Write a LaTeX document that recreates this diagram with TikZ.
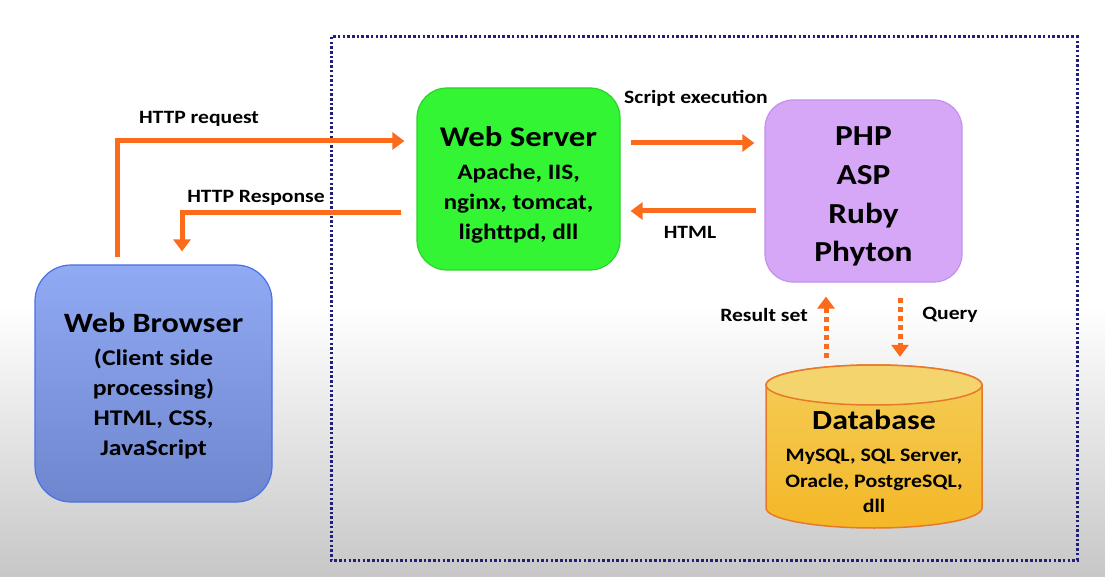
\documentclass[tikz,border=0pt]{standalone}
\usepackage{fontspec}
\setmainfont{Carlito}[FakeStretch=1.15]
\usetikzlibrary{arrows.meta}
\definecolor{orng}{HTML}{FC6A1C}
\definecolor{navy}{HTML}{1F1F7A}
\definecolor{bltop}{HTML}{90AAF3}
\definecolor{blbot}{HTML}{6E86CE}
\definecolor{blline}{HTML}{4D6FE6}
\definecolor{grn}{HTML}{33F533}
\definecolor{grnline}{HTML}{2AD42A}
\definecolor{lav}{HTML}{D6A6F7}
\definecolor{lavline}{HTML}{C490EE}
\definecolor{gold}{HTML}{F2C12E}
\definecolor{goldtop}{HTML}{F4D46C}
\definecolor{dbline}{HTML}{E8792A}
\tikzset{
  box/.style={rounded corners=30pt, line width=1.2pt, inner sep=0pt},
  txt/.style={align=center, inner sep=0pt},
  arr/.style={draw=orng, line width=5pt, -{Triangle[width=17pt,length=12pt]}},
  dotarr/.style={draw=orng, line width=5pt, dash pattern=on 5pt off 4pt, -{Triangle[width=17pt,length=12pt]}},
  lbl/.style={font=\bfseries\fontsize{18.8}{20}\selectfont, inner sep=0pt}
}
\begin{document}
\begin{tikzpicture}[x=1pt,y=-1pt]
\useasboundingbox (0,0) rectangle (1105,577);
% background
\fill[white] (0,0) rectangle (1105,577);
\shade[top color=white, bottom color=black!22] (0,305) rectangle (1105,577);
% frame
\draw[navy, line width=3pt, dash pattern=on 2.5pt off 2.2pt] (331,37) rectangle (1077,560);
% boxes
\node[box, draw=blline, top color=bltop, bottom color=blbot, minimum width=237pt, minimum height=237pt, rounded corners=36pt] (browser) at (153.5,383.5) {};
\node[txt, font=\bfseries\fontsize{22.4}{30}\selectfont] (browsertxt) at (153.5,385.5)
  {{\fontsize{28}{34}\selectfont Web Browser}\\[3pt]
   (Client side\\processing)\\HTML, CSS,\\JavaScript};
\node[box, draw=grnline, fill=grn, minimum width=203pt, minimum height=182pt] (server) at (518.5,179) {};
\node[txt, font=\bfseries\fontsize{22}{30}\selectfont] (servertxt) at (518.5,184.7)
  {{\fontsize{28.5}{34}\selectfont Web Server}\\[3pt]
   Apache, IIS,\\nginx, tomcat,\\lighttpd, dll};
\node[box, draw=lavline, fill=lav, minimum width=197pt, minimum height=182pt, rounded corners=28pt] (php) at (863.5,191) {};
\node[txt, font=\bfseries\fontsize{29}{38.7}\selectfont] (phptxt) at (863.5,196.6)
  {PHP\\ASP\\Ruby\\Phyton};
% database cylinder
\node[minimum width=216pt, minimum height=163pt, inner sep=0pt] (db) at (874,446.5) {};
\path[draw=dbline, line width=1.5pt, top color=gold!80!white, bottom color=gold!85!orange]
  (766,385) -- (766,508) arc[start angle=180, end angle=360, x radius=108pt, y radius=20pt] -- (982,385)
  arc[start angle=0, end angle=180, x radius=108pt, y radius=20pt];
\draw[dbline, line width=1.5pt, fill=goldtop] (874,385) ellipse[x radius=108pt, y radius=20pt];
\node[txt, font=\bfseries\fontsize{19}{25.5}\selectfont] (dbtext) at (874,461.8)
  {{\fontsize{27.7}{30}\selectfont Database}\\[6.5pt]
   MySQL, SQL Server,\\Oracle, PostgreSQL,\\dll};
% connectors
\draw[arr] ([xshift=-36.5pt,yshift=7pt]browser.north) |- ([xshift=-12pt,yshift=38pt]server.west);
\draw[arr] ([xshift=-15pt,yshift=-34pt]server.west) -| ([xshift=28.5pt,yshift=13pt]browser.north);
\draw[arr] ([xshift=10pt,yshift=36pt]server.east) -- ([xshift=-10pt,yshift=48pt]php.west);
\draw[arr] ([xshift=-8pt,yshift=-20pt]php.west) -- ([xshift=10pt,yshift=-32pt]server.east);
\draw[dotarr] ([xshift=-48pt,yshift=7pt]db.north) -- ([xshift=-37.5pt,yshift=-14pt]php.south);
\draw[dotarr] ([xshift=36.5pt,yshift=-15pt]php.south) -- ([xshift=26pt,yshift=8pt]db.north);
% labels
\node[lbl] (l1) at (199,119) {HTTP request};
\node[lbl] (l2) at (256,198) {HTTP Response};
\node[lbl] (l3) at (696,98) {Script execution};
\node[lbl] (l4) at (690,232) {HTML};
\node[lbl] (l5) at (764,315) {Result set};
\node[lbl] (l6) at (950,315) {Query};
\end{tikzpicture}
\end{document}
